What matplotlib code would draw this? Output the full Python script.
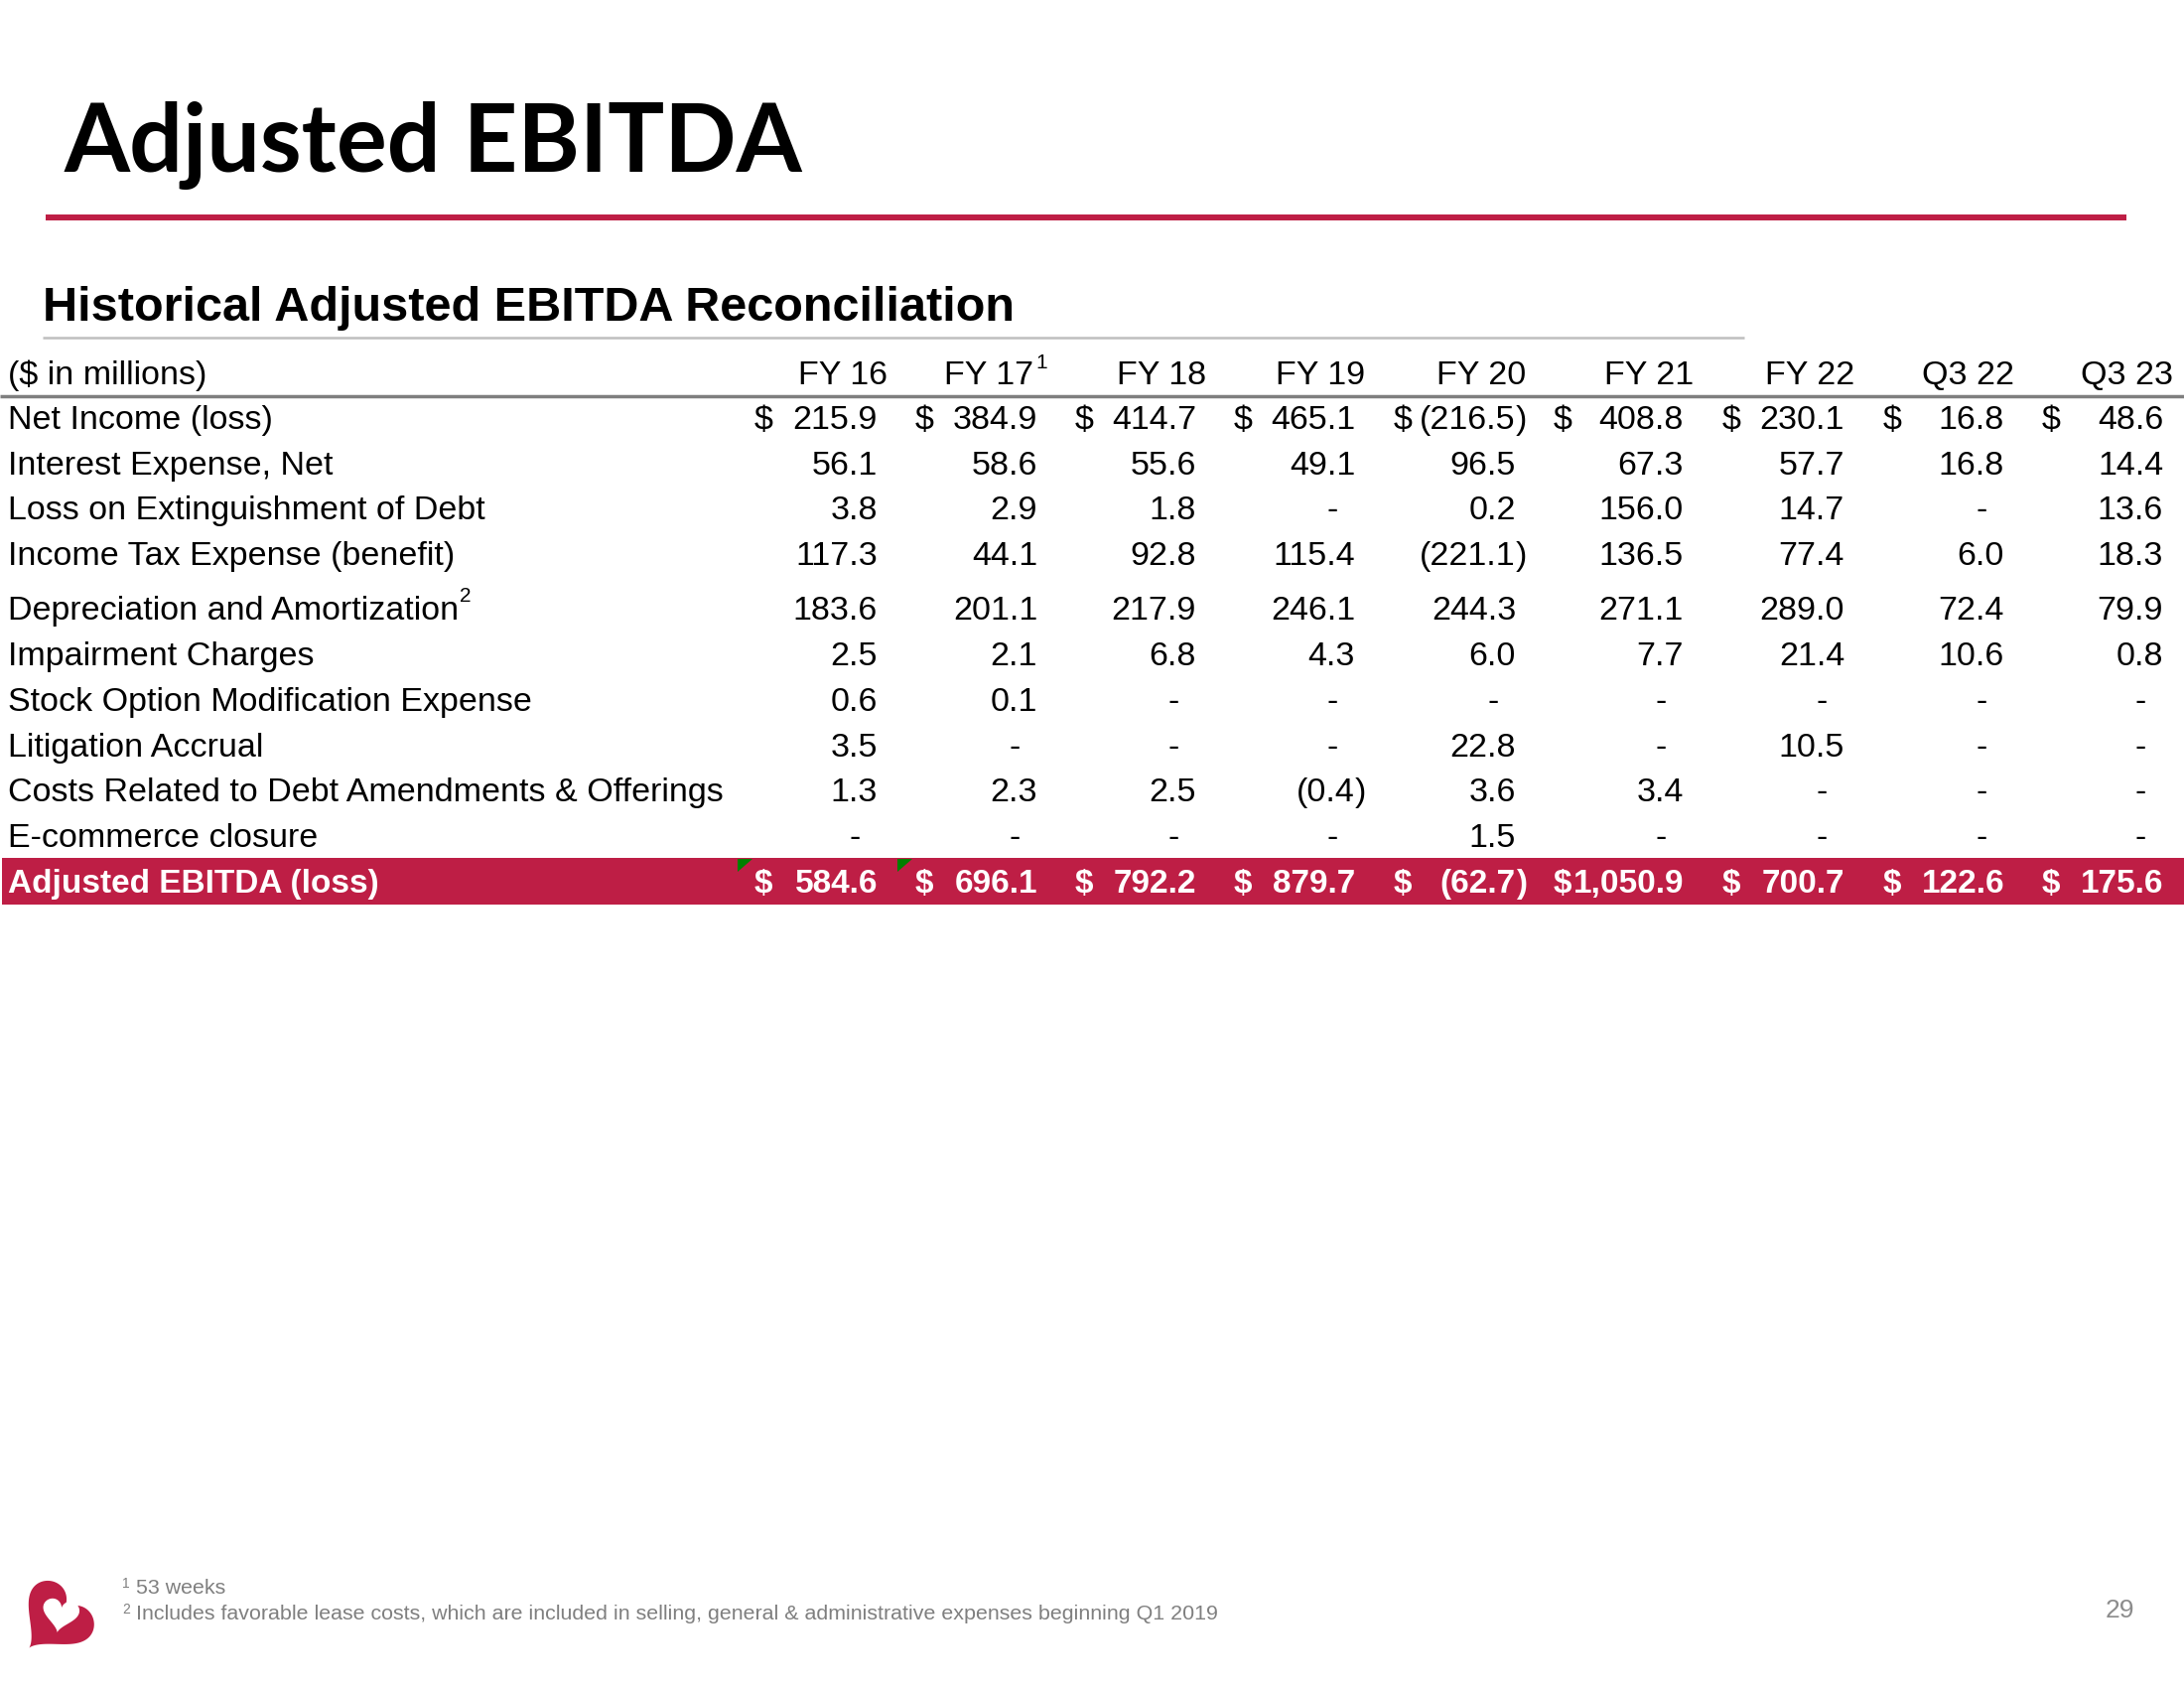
import matplotlib
matplotlib.use("Agg")
import matplotlib.pyplot as plt
import numpy as np
from matplotlib.patches import Rectangle, Polygon

# ---------------- data ----------------
columns = ["FY 16", "FY 17", "FY 18", "FY 19", "FY 20", "FY 21", "FY 22", "Q3 22", "Q3 23"]
column_sup = ["", "1", "", "", "", "", "", "", ""]

row_labels = [
    "Net Income (loss)",
    "Interest Expense, Net",
    "Loss on Extinguishment of Debt",
    "Income Tax Expense (benefit)",
    "Depreciation and Amortization",
    "Impairment Charges",
    "Stock Option Modification Expense",
    "Litigation Accrual",
    "Costs Related to Debt Amendments & Offerings",
    "E-commerce closure",
]
row_sup = ["", "", "", "", "2", "", "", "", "", ""]

net_income = [215.9, 384.9, 414.7, 465.1, -216.5, 408.8, 230.1, 16.8, 48.6]
interest_expense = [56.1, 58.6, 55.6, 49.1, 96.5, 67.3, 57.7, 16.8, 14.4]
loss_extinguishment = [3.8, 2.9, 1.8, None, 0.2, 156.0, 14.7, None, 13.6]
income_tax = [117.3, 44.1, 92.8, 115.4, -221.1, 136.5, 77.4, 6.0, 18.3]
depreciation = [183.6, 201.1, 217.9, 246.1, 244.3, 271.1, 289.0, 72.4, 79.9]
impairment = [2.5, 2.1, 6.8, 4.3, 6.0, 7.7, 21.4, 10.6, 0.8]
stock_option = [0.6, 0.1, None, None, None, None, None, None, None]
litigation = [3.5, None, None, None, 22.8, None, 10.5, None, None]
debt_costs = [1.3, 2.3, 2.5, -0.4, 3.6, 3.4, None, None, None]
ecommerce = [None, None, None, None, 1.5, None, None, None, None]
adjusted_ebitda = [584.6, 696.1, 792.2, 879.7, -62.7, 1050.9, 700.7, 122.6, 175.6]

total_label = "Adjusted EBITDA (loss)"
title = "Adjusted EBITDA"
subtitle = "Historical Adjusted EBITDA Reconciliation"
unit_label = "($ in millions)"
footnotes = ["53 weeks",
             "Includes favorable lease costs, which are included in selling, general & administrative expenses beginning Q1 2019"]
page_number = "29"

rows = [net_income, interest_expense, loss_extinguishment, income_tax, depreciation,
        impairment, stock_option, litigation, debt_costs, ecommerce]

# ---------------- layout / style ----------------
RED = "#BE1E45"
W, H = 2200, 1700
fig = plt.figure(figsize=(22, 17), dpi=100)
ax = fig.add_axes([0, 0, 1, 1])
ax.set_xlim(0, W)
ax.set_ylim(H, 0)
ax.axis("off")

BODY = "Liberation Sans"
FS = 24.5
FS_TOT = 24

col_right = [884, 1045, 1205, 1365, 1527, 1696, 1858, 2019, 2179]
dollar_x = [760, 922, 1083, 1243, 1404, 1565, 1735, 1897, 2057]
row_base = [432, 478, 523, 569, 624, 670, 716, 762, 807, 853]
header_base = 387
total_base = 899


def fmt(v):
    return f"{abs(v):,.1f}"


# Title
ax.text(65, 173, title, fontsize=68.5, fontweight="bold", family="Lato",
        ha="left", va="baseline", color="black")
ax.plot([46, 2142], [219, 219], color=RED, lw=4.3, solid_capstyle="butt")

# Subtitle
ax.text(43, 323, subtitle, fontsize=35, fontweight="bold", family=BODY,
        ha="left", va="baseline", color="black")
ax.plot([43, 1757], [340, 340], color="#BFBFBF", lw=1.8, solid_capstyle="butt")

# Header row
ax.text(8, header_base, unit_label, fontsize=FS, family=BODY, ha="left", va="baseline")
for i, c in enumerate(columns):
    xr = col_right[i] + 10
    if column_sup[i]:
        xr -= 14
        ax.text(xr + 2, header_base - 16, column_sup[i], fontsize=15, family=BODY,
                ha="left", va="baseline")
    ax.text(xr, header_base, c, fontsize=FS, family=BODY, ha="right", va="baseline")
ax.plot([0, W], [399, 399], color="#7F7F7F", lw=2.5, solid_capstyle="butt")

# Body rows
for r, (lab, vals) in enumerate(zip(row_labels, rows)):
    yb = row_base[r]
    t = ax.text(8, yb, lab, fontsize=FS, family=BODY, ha="left", va="baseline")
    if row_sup[r]:
        fig.canvas.draw()
        bb = t.get_window_extent()
        ax.text(bb.x1 + 1, yb - 18, row_sup[r], fontsize=15, family=BODY,
                ha="left", va="baseline")
    for i, v in enumerate(vals):
        xr = col_right[i]
        if v is None:
            ax.text(xr - 23, yb, "-", fontsize=FS, family=BODY, ha="center", va="baseline")
            continue
        s = fmt(v)
        if v < 0:
            ax.text(xr, yb, "(" + s, fontsize=FS, family=BODY, ha="right", va="baseline")
            ax.text(xr, yb, ")", fontsize=FS, family=BODY, ha="left", va="baseline")
        else:
            ax.text(xr, yb, s, fontsize=FS, family=BODY, ha="right", va="baseline")
        if r == 0:
            ax.text(dollar_x[i], yb, "$", fontsize=FS, family=BODY, ha="left", va="baseline")

# Total row
ax.add_patch(Rectangle((2, 864), W - 2, 47, facecolor=RED, edgecolor="none"))
ax.text(8, total_base, total_label, fontsize=FS_TOT, fontweight="bold", family=BODY,
        color="white", ha="left", va="baseline")
for i, v in enumerate(adjusted_ebitda):
    xr = col_right[i]
    s = fmt(v)
    if v < 0:
        ax.text(xr, total_base, "(" + s, fontsize=FS_TOT, fontweight="bold", family=BODY,
                color="white", ha="right", va="baseline")
        ax.text(xr, total_base, ")", fontsize=FS_TOT, fontweight="bold", family=BODY,
                color="white", ha="left", va="baseline")
    else:
        ax.text(xr, total_base, s, fontsize=FS_TOT, fontweight="bold", family=BODY,
                color="white", ha="right", va="baseline")
    ax.text(dollar_x[i], total_base, "$", fontsize=FS_TOT, fontweight="bold", family=BODY,
            color="white", ha="left", va="baseline")

# Excel error-indicator triangles on first two total cells
for i in (0, 1):
    x0 = col_right[i] - 141
    ax.add_patch(Polygon([(x0, 865), (x0 + 15, 865), (x0, 878)], closed=True,
                         facecolor="#008000", edgecolor="none"))

# Footnotes
FG = "#7F7F7F"
fn_base = [1605, 1631]
for k, fn in enumerate(footnotes):
    ax.text(123, fn_base[k] - 6, str(k + 1), fontsize=10, family=BODY, color=FG,
            ha="left", va="baseline")
    ax.text(137, fn_base[k], fn, fontsize=15.4, family=BODY, color=FG,
            ha="left", va="baseline")

ax.text(2150, 1629, page_number, fontsize=19, family=BODY, color="#8C8C8C",
        ha="right", va="baseline")

# Logo (heart "b" mark)
t = np.linspace(0, 2 * np.pi, 200)
hx = 16 * np.sin(t) ** 3
hy = 13 * np.cos(t) - 5 * np.cos(2 * t) - 2 * np.cos(3 * t) - np.cos(4 * t)


def heart(cx, cy, s, ang):
    a = np.deg2rad(ang)
    x = hx * np.cos(a) - hy * np.sin(a)
    y = hx * np.sin(a) + hy * np.cos(a)
    return np.column_stack([cx + s * x, cy - s * y])


ax.add_patch(Polygon(heart(56, 1630, 2.35, -42), closed=True, facecolor=RED, edgecolor="none"))
ax.add_patch(Polygon(heart(61, 1625, 1.15, -10), closed=True, facecolor="white", edgecolor="none"))

fig.savefig("out.png", dpi=100)
